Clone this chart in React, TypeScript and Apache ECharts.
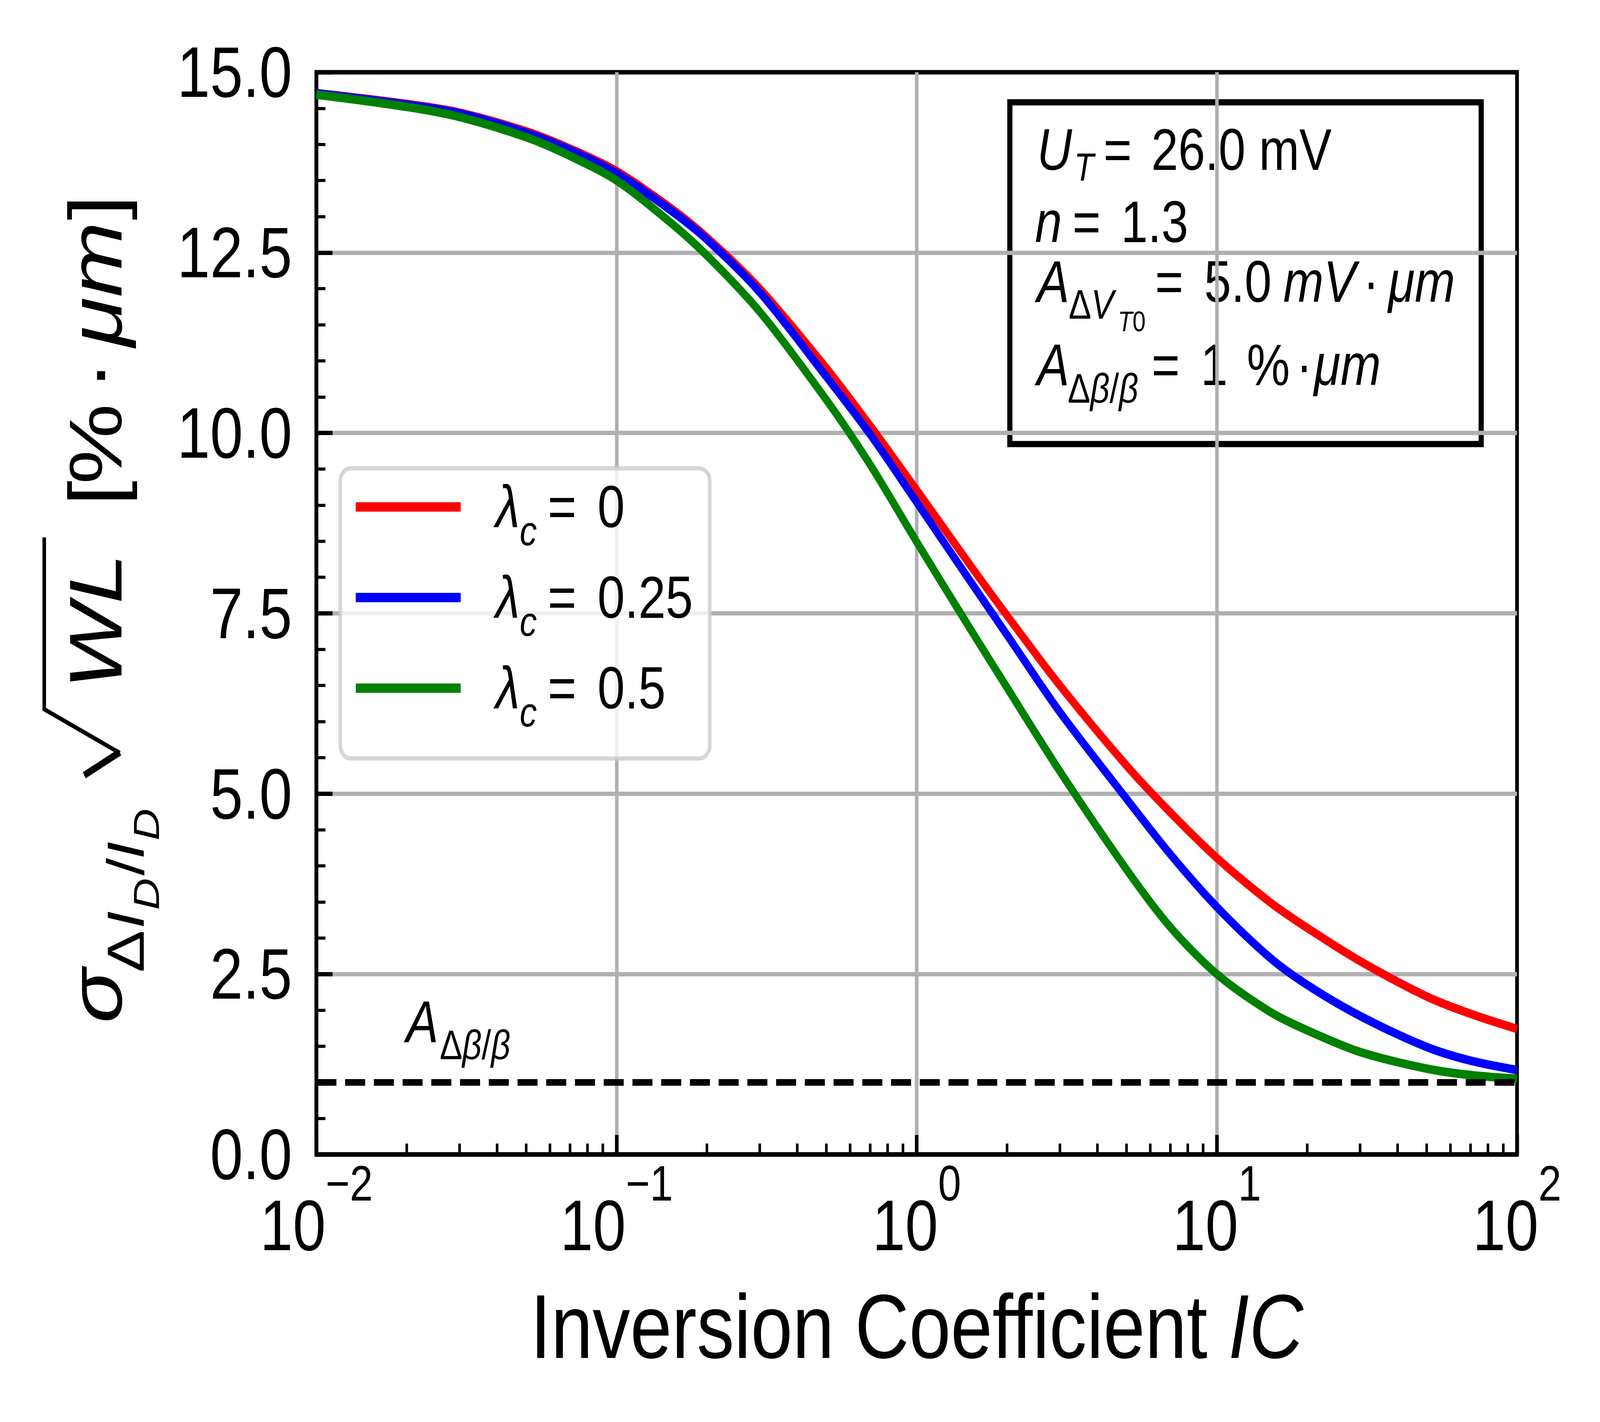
import React, { useEffect, useRef } from "react";
import * as echarts from "echarts";

// ---------- data ----------
const IC = [0.01, 0.02, 0.03, 0.05, 0.07, 0.1, 0.15, 0.2, 0.3, 0.5, 0.7, 1, 1.5, 2, 3, 5, 7, 10, 15, 20, 30, 50, 70, 100];
const lambda0 = [14.71, 14.56, 14.44, 14.18, 13.94, 13.63, 13.13, 12.71, 12.0, 10.9, 10.1, 9.21, 8.18, 7.47, 6.5, 5.39, 4.74, 4.11, 3.5, 3.14, 2.68, 2.19, 1.95, 1.74];
const lambda025 = [14.71, 14.55, 14.43, 14.16, 13.92, 13.6, 13.1, 12.68, 11.95, 10.78, 9.98, 9.04, 7.96, 7.2, 6.13, 4.93, 4.16, 3.43, 2.73, 2.35, 1.92, 1.49, 1.3, 1.17];
const lambda05 = [14.69, 14.52, 14.38, 14.1, 13.84, 13.5, 12.93, 12.46, 11.68, 10.46, 9.56, 8.49, 7.3, 6.47, 5.31, 3.95, 3.15, 2.5, 1.98, 1.72, 1.42, 1.19, 1.1, 1.05];
const seriesLambda = ["0", "0.25", "0.5"];
const seriesColors = ["#ff0000", "#0000ff", "#008000"];
const yMin = 0;
const yMax = 15;
const yInterval = 2.5;
const xMin = 0.01;
const xMax = 100;
const xMinorTicks = [
  0.02, 0.03, 0.04, 0.05, 0.06, 0.07, 0.08, 0.09,
  0.2, 0.3, 0.4, 0.5, 0.6, 0.7, 0.8, 0.9,
  2, 3, 4, 5, 6, 7, 8, 9,
  20, 30, 40, 50, 60, 70, 80, 90,
];
const betaLevel = 1.0;

const REF_W = 4956;
const REF_H = 3641;
const FF = "'Liberation Sans', Arial, Helvetica, sans-serif";
const CENTRAL = 0.3465;

function txt(text: string, x: number, baseline: number, size: number, italic = false): any {
  return {
    type: "text",
    x,
    y: baseline - CENTRAL * size,
    silent: true,
    style: {
      text,
      fontSize: size,
      lineHeight: Math.round(size * 0.75),
      fontFamily: FF,
      fontStyle: italic ? "italic" : "normal",
      fill: "#000",
      align: "left",
      verticalAlign: "middle",
    },
  };
}

function buildOption(): any {
  const names = seriesLambda.map((v) => "λc = " + v);
  const values = [lambda0, lambda025, lambda05];

  const lineSeries = values.map((vals, i) => ({
    name: names[i],
    type: "line",
    data: IC.map((x, j) => [x, vals[j]]),
    showSymbol: false,
    smooth: 0.3,
    lineStyle: { color: seriesColors[i], width: 22 },
    itemStyle: { color: seriesColors[i] },
    z: 3,
    silent: true,
  }));

  const dashSeries = {
    type: "line",
    data: [],
    silent: true,
    z: 4,
    markLine: {
      silent: true,
      symbol: ["none", "none"],
      label: { show: false },
      lineStyle: { color: "#000", width: 17, type: [62, 27] },
      data: [{ yAxis: betaLevel }],
      animation: false,
    },
  };

  const minorTickSeries = {
    type: "custom",
    data: xMinorTicks.map((v) => [v, yMin]),
    silent: true,
    clip: false,
    z: 6,
    renderItem: (params: any, api: any) => {
      const pt = api.coord([api.value(0), yMin]);
      return {
        type: "line",
        shape: { x1: pt[0], y1: pt[1], x2: pt[0], y2: pt[1] - 28 },
        style: { stroke: "#000", lineWidth: 8 },
      };
    },
  };

  const yLabel = {
    type: "group",
    x: 376,
    y: 2640,
    rotation: Math.PI / 2,
    silent: true,
    children: [
      txt("σ", 20, 0, 232, true),
      txt("Δ", 150, 69, 162),
      txt("I", 262, 69, 162, true),
      txt("D", 310, 116, 113, true),
      txt("/", 398, 69, 162),
      txt("I", 440, 69, 162, true),
      txt("D", 488, 116, 113, true),
      {
        type: "polyline",
        shape: { points: [[655, -115], [714, -5]] },
        style: { stroke: "#000", lineWidth: 18, fill: null },
      },
      {
        type: "polyline",
        shape: { points: [[712, -5], [824, -239], [1264, -239]] },
        style: { stroke: "#000", lineWidth: 11, fill: null },
      },
      txt("WL", 875, 0, 232, true),
      txt("[", 1345, 0, 232),
      txt("%", 1400, 0, 232),
      txt("·", 1640, 0, 232),
      txt("μm", 1752, 0, 232, true),
      txt("]", 2076, 0, 232),
    ],
  };

  const infoBox = [
    {
      type: "rect",
      silent: true,
      shape: { x: 3128, y: 262, width: 1460, height: 875 },
      style: { fill: "#fff", stroke: "#000", lineWidth: 16 },
    },
    txt("U", 3212, 435, 150, true),
    txt("T", 3327, 462, 100, true),
    txt("=", 3418, 435, 150),
    txt("26.0 mV", 3566, 435, 150),

    txt("n", 3206, 620, 150, true),
    txt("=", 3322, 620, 150),
    txt("1.3", 3472, 620, 150),

    txt("A", 3212, 773, 150, true),
    txt("Δ", 3310, 816, 105),
    txt("V", 3380, 816, 105, true),
    txt("T", 3463, 848, 73, true),
    txt("0", 3508, 848, 73),
    txt("=", 3578, 773, 150),
    txt("5.0", 3730, 773, 150),
    txt("mV", 3975, 773, 150, true),
    txt("·", 4222, 773, 150),
    txt("μm", 4300, 773, 150, true),

    txt("A", 3212, 986, 150, true),
    txt("Δ", 3307, 1031, 105),
    txt("β", 3377, 1031, 105, true),
    txt("/", 3437, 1031, 105),
    txt("β", 3466, 1031, 105, true),
    txt("=", 3567, 986, 150),
    txt("1", 3719, 986, 150),
    txt("%", 3862, 986, 150),
    txt("·", 4015, 986, 150),
    txt("μm", 4070, 986, 150, true),
  ];

  const annotation = [
    txt("A", 1258, 2668, 150, true),
    txt("Δ", 1362, 2712, 105),
    txt("β", 1432, 2712, 105, true),
    txt("/", 1492, 2712, 105),
    txt("β", 1521, 2712, 105, true),
  ];

  const root = {
    type: "group",
    x: 0,
    y: 0,
    z: 100,
    silent: true,
    children: [yLabel, ...infoBox, ...annotation],
  };

  return {
    animation: false,
    backgroundColor: "#ffffff",
    textStyle: { fontFamily: FF },
    grid: {
      left: 980,
      top: 185,
      width: 3719,
      height: 2771,
      show: true,
      borderColor: "#000",
      borderWidth: 11.5,
      backgroundColor: "transparent",
      containLabel: false,
      outerBoundsMode: "none",
    },
    xAxis: {
      type: "log",
      logBase: 10,
      min: xMin,
      max: xMax,
      name: "{a|Inversion Coefficient }{b|IC}",
      nameLocation: "middle",
      nameGap: 324,
      nameTextStyle: {
        fontFamily: FF,
        fontSize: 232,
        color: "#000",
        rich: {
          a: { fontFamily: FF, fontSize: 232, lineHeight: 232, color: "#000" },
          b: { fontFamily: FF, fontSize: 232, lineHeight: 232, color: "#000", fontStyle: "italic" },
        },
      },
      axisLine: { show: true, lineStyle: { color: "#000", width: 11.5 } },
      axisTick: { show: true, inside: true, length: 50, lineStyle: { color: "#000", width: 11 } },
      minorTick: { show: false },
      splitLine: { show: true, showMinLine: false, showMaxLine: false, lineStyle: { color: "#b0b0b0", width: 11 } },
      axisLabel: {
        show: true,
        interval: 0,
        showMinLabel: true,
        showMaxLabel: true,
        margin: 10,
        formatter: (v: number) => {
          const e = Math.round(Math.log10(v));
          const t = e < 0 ? "−" + Math.abs(e) : String(e);
          return "{b|10}{s|" + t + "}";
        },
        rich: {
          b: { fontFamily: FF, fontSize: 183, color: "#000", verticalAlign: "bottom" },
          s: { fontFamily: FF, fontSize: 128, color: "#000", verticalAlign: "top", lineHeight: 263 },
        },
      },
    },
    yAxis: {
      type: "value",
      min: yMin,
      max: yMax,
      interval: yInterval,
      axisLine: { show: true, lineStyle: { color: "#000", width: 11.5 } },
      axisTick: { show: true, inside: true, length: 50, lineStyle: { color: "#000", width: 11 } },
      minorTick: { show: true, splitNumber: 5, length: 28, lineStyle: { color: "#000", width: 8 } },
      minorSplitLine: { show: false },
      splitLine: { show: true, showMinLine: false, showMaxLine: false, lineStyle: { color: "#b0b0b0", width: 11 } },
      axisLabel: {
        show: true,
        margin: 75,
        fontFamily: FF,
        fontSize: 183,
        color: "#000",
        formatter: (v: number) => v.toFixed(1),
      },
    },
    legend: {
      show: true,
      orient: "vertical",
      left: 1054,
      top: 1199,
      padding: [23, 52, 66, 48],
      itemGap: 42,
      itemWidth: 325,
      itemHeight: 24,
      icon: "rect",
      selectedMode: false,
      data: names,
      backgroundColor: "rgba(255,255,255,0.8)",
      borderColor: "rgba(204,204,204,0.8)",
      borderWidth: 11,
      borderRadius: 33,
      itemStyle: { borderWidth: 0 },
      z: 50,
      formatter: (name: string) => {
        const v = name.replace("λc = ", "");
        return "{l|λ}{c|c}{e|=}{v|" + v + "}";
      },
      textStyle: {
        fontFamily: FF,
        fontSize: 152,
        color: "#000",
        rich: {
          l: { fontFamily: FF, fontSize: 152, fontStyle: "italic", color: "#000", verticalAlign: "middle", padding: [0, 0, 0, 103] },
          c: { fontFamily: FF, fontSize: 106, fontStyle: "italic", color: "#000", verticalAlign: "bottom", lineHeight: 228 },
          e: { fontFamily: FF, fontSize: 152, color: "#000", verticalAlign: "middle", padding: [0, 0, 0, 34] },
          v: { fontFamily: FF, fontSize: 152, color: "#000", verticalAlign: "middle", padding: [0, 0, 0, 65] },
        },
      },
    },
    series: [...lineSeries, dashSeries, minorTickSeries],
    graphic: { elements: [root] },
  };
}

export default function App() {
  const ref = useRef<HTMLDivElement>(null);
  useEffect(() => {
    document.body.style.margin = "0";
    document.body.style.overflow = "hidden";
    const el = ref.current;
    if (!el) return;
    const vw = window.innerWidth || REF_W;
    const vh = window.innerHeight || REF_H;
    el.style.transform = "scale(" + vw / REF_W + ", " + vh / REF_H + ")";
    const chart = echarts.init(el, null, { renderer: "svg", width: REF_W, height: REF_H });
    chart.setOption(buildOption());
    return () => chart.dispose();
  }, []);
  return (
    <div style={{ position: "fixed", left: 0, top: 0, width: "100vw", height: "100vh", overflow: "hidden", background: "#fff" }}>
      <div
        ref={ref}
        style={{ position: "absolute", left: 0, top: 0, width: REF_W, height: REF_H, transformOrigin: "0 0", background: "#fff" }}
      />
    </div>
  );
}
